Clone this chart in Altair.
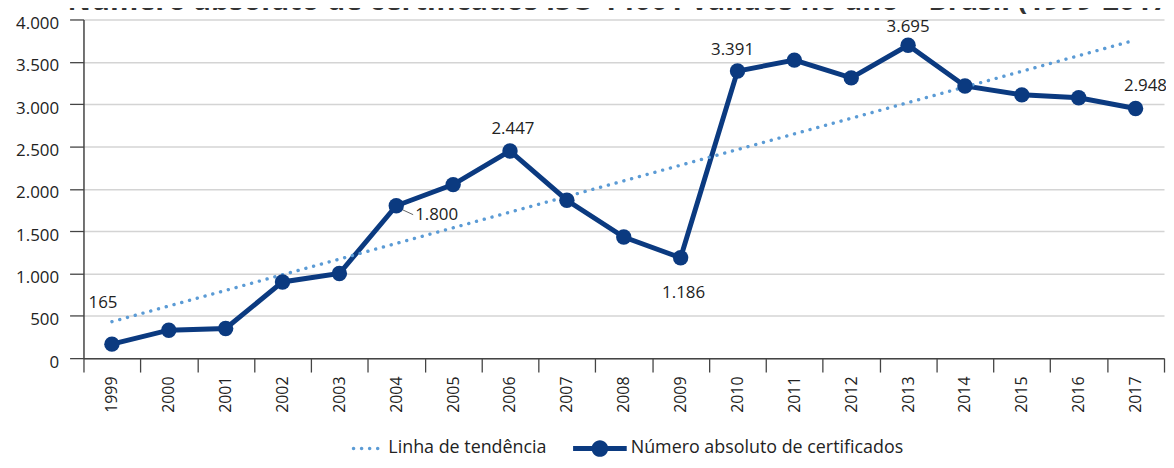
import altair as alt
import pandas as pd

years = list(range(1999, 2018))
values = [165, 330, 350, 900, 1000, 1800, 2050, 2447, 1865, 1431, 1186,
          3391, 3520, 3310, 3695, 3215, 3110, 3075, 2948]
series_names = ["Linha de tendência", "Número absoluto de certificados"]
title_text = "Número absoluto de certificados ISO 14001 válidos no ano – Brasil (1999-2017)"
labeled_years = [1999, 2004, 2006, 2009, 2010, 2013, 2017]

df = pd.DataFrame({"year": years, "value": values})
legend_df = pd.DataFrame({"series": series_names, "year": [years[0]] * 2, "value": [0, 0]})

NAVY = "#0b3a80"
LIGHT = "#5b9bd5"
FONT = "Open Sans"

x_enc = alt.X("year:O", scale=alt.Scale(domain=years, paddingInner=0, paddingOuter=0),
              axis=alt.Axis(title=None, labelAngle=-90, labelFontSize=16, labelFont=FONT,
                            labelColor="#222", tickBand="extent", tickSize=14, tickColor="#444",
                            tickWidth=1.3, domainColor="#444", domainWidth=1.5, labelPadding=4,
                            grid=False))
y_enc = alt.Y("value:Q", scale=alt.Scale(domain=[0, 4000], nice=False),
              axis=alt.Axis(title=None, values=list(range(0, 4001, 500)), labelFontSize=17,
                            labelFont=FONT, labelColor="#222", tickSize=14, tickColor="#444",
                            tickWidth=1.3, domainColor="#444", domainWidth=1.5, labelPadding=11,
                            labelOffset=4, gridColor="#d4d4d4", gridWidth=1.5,
                            labelExpr="replace(format(datum.value, ','), ',', '.')"))

base = alt.Chart(df)

trend = base.transform_regression("year", "value").mark_line(
    color=LIGHT, strokeWidth=3.4, strokeDash=[0.1, 8], strokeCap="round"
).encode(x=alt.X("year:O", scale=alt.Scale(domain=years)), y="value:Q")

line = base.mark_line(color=NAVY, strokeWidth=5).encode(x=x_enc, y=y_enc)
points = base.mark_point(filled=True, color=NAVY, opacity=1, size=240).encode(x="year:O", y="value:Q")

leader = base.transform_filter("datum.year == 2004").mark_rule(
    color="#666", strokeWidth=1, xOffset=4, x2Offset=17, yOffset=3, y2Offset=9
).encode(x="year:O", y="value:Q", x2=alt.X2("year"), y2=alt.Y2("value"))

label_style = {
    1999: dict(dx=-9, dy=-41, align="center"),
    2004: dict(dx=19, dy=9, align="left"),
    2006: dict(dx=3, dy=-22, align="center"),
    2009: dict(dx=3, dy=36, align="center"),
    2010: dict(dx=-5, dy=-21, align="center"),
    2013: dict(dx=0, dy=-18, align="center"),
    2017: dict(dx=10, dy=-23, align="center"),
}
texts = []
for yr in labeled_years:
    st = label_style[yr]
    texts.append(
        base.transform_filter(f"datum.year == {yr}")
        .transform_calculate(lbl="replace(format(datum.value, ','), ',', '.')")
        .mark_text(font=FONT, fontSize=17, color="#222", baseline="middle", **st)
        .encode(x="year:O", y="value:Q", text="lbl:N")
    )

main_path = ("M-1,-0.095 L1,-0.095 L1,0.095 L-1,0.095 Z "
             "M-0.31,0 A0.31,0.31 0 1,1 0.31,0 A0.31,0.31 0 1,1 -0.31,0 Z")
dot = lambda c: f"M{c-0.065},0 A0.065,0.065 0 1,1 {c+0.065},0 A0.065,0.065 0 1,1 {c-0.065},0 Z "
trend_path = "".join(dot(c) for c in [-0.15, 0.15, 0.45, 0.75])

leg = alt.Legend(title=None, orient="none", legendX=249, legendY=405, direction="horizontal",
                 labelFont=FONT, labelFontSize=18, labelColor="#222", symbolSize=2916,
                 symbolOpacity=1, symbolStrokeWidth=0, labelOffset=4, columnPadding=26,
                 labelLimit=500)
legend_layer = alt.Chart(legend_df).mark_point(filled=True, opacity=0).encode(
    x="year:O", y="value:Q",
    color=alt.Color("series:N", scale=alt.Scale(domain=series_names, range=[LIGHT, NAVY]), legend=leg),
    shape=alt.Shape("series:N", scale=alt.Scale(domain=series_names, range=[trend_path, main_path]), legend=leg),
)

chart = alt.layer(line, trend, leader, points, *texts, legend_layer).properties(
    width=1088, height=341,
    autosize=alt.AutoSizeParams(type="none"),
    padding={"left": 76, "top": 10, "right": 2, "bottom": 100},
    title=alt.TitleParams(title_text, anchor="start", frame="group", fontSize=29, font=FONT,
                          fontWeight="bold", color="#333", baseline="alphabetic", offset=0,
                          dx=-16, dy=24, limit=2000),
).configure_view(stroke=None)

chart.save("out.html", embed_options={"renderer": "svg", "actions": False})
